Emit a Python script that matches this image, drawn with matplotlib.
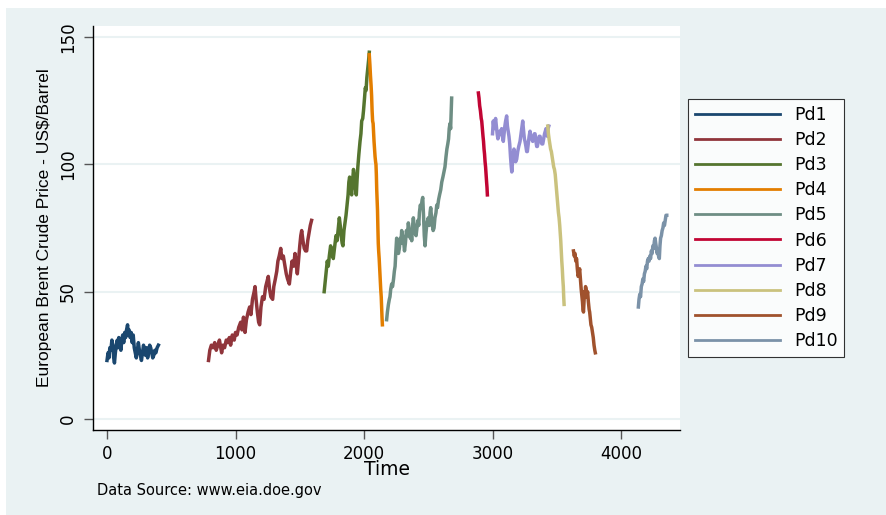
import matplotlib
matplotlib.use("Agg")
import matplotlib.pyplot as plt

# ── data: (time, US$/barrel) ────────────────────────────────────────────────
pd1_t = [0, 8, 15, 22, 30, 38, 45, 52, 58, 65, 72, 80, 86, 92, 100, 108, 115, 122,
         130, 138, 145, 152, 160, 166, 172, 180, 188, 196, 204, 212, 220, 228, 236,
         244, 252, 260, 268, 276, 284, 292, 300, 308, 316, 324, 332, 340, 348, 356,
         364, 372, 380, 390, 400]
pd1_v = [23, 26, 24, 28, 27, 31, 29, 24, 22, 26, 29, 31, 28, 32, 30, 27, 31, 33,
         30, 34, 32, 35, 37, 33, 35, 32, 34, 30, 33, 28, 26, 24, 27,
         30, 27, 25, 23, 26, 29, 27, 25, 28, 24, 26, 29, 28, 26, 24,
         25, 27, 26, 28, 29]

pd2_t = [790, 800, 812, 825, 838, 850, 862, 875, 885, 892, 902, 915, 928, 940, 952,
         962, 975, 990, 1000, 1012, 1025, 1040, 1050, 1062, 1074, 1085, 1098, 1110,
         1120, 1132, 1145, 1152, 1160, 1170, 1180, 1188, 1198, 1210, 1222, 1235,
         1245, 1255, 1265, 1275, 1289, 1298, 1310, 1321, 1330, 1340, 1352, 1360,
         1372, 1385, 1395, 1405, 1419, 1430, 1440, 1452, 1463, 1472, 1481, 1490,
         1500, 1508, 1515, 1525, 1535, 1545, 1554, 1562, 1572, 1582, 1592]
pd2_v = [23, 27, 29, 28, 30, 27, 29, 31, 28, 26, 29, 28, 31, 30, 32,
         29, 33, 31, 34, 33, 36, 38, 35, 40, 34, 39, 42, 44,
         41, 47, 50, 52, 47, 42, 38, 37, 44, 48, 47, 52,
         54, 56, 51, 48, 47, 52, 55, 58, 62, 64, 67, 63,
         64, 60, 57, 55, 53, 58, 62, 60, 65, 61, 57, 62,
         68, 72, 74, 70, 67, 66, 66, 70, 73, 76, 78]

pd3_t = [1690, 1698, 1706, 1714, 1722, 1730, 1740, 1750, 1761, 1770, 1782, 1790,
         1800, 1808, 1815, 1822, 1830, 1836, 1844, 1852, 1860, 1868, 1876, 1882,
         1888, 1895, 1904, 1912, 1918, 1924, 1932, 1940, 1946, 1952, 1960, 1969,
         1976, 1982, 1990, 1996, 2004, 2010, 2016, 2022, 2030, 2036, 2041]
pd3_v = [50, 54, 58, 62, 60, 64, 68, 66, 63, 67, 72, 70,
         75, 79, 76, 72, 69, 68, 74, 77, 80, 84, 88, 93,
         95, 90, 88, 94, 98, 96, 91, 88, 94, 99, 104, 109,
         112, 117, 118, 121, 126, 130, 129, 134, 138, 141, 144]

pd4_t = [2041, 2046, 2050, 2055, 2059, 2063, 2067, 2071, 2075, 2078, 2082, 2086,
         2090, 2093, 2096, 2099, 2102, 2105, 2108, 2111, 2114, 2118, 2122, 2126,
         2130, 2134, 2137, 2140, 2143]
pd4_v = [143, 139, 135, 131, 127, 121, 117, 116, 112, 109, 106, 103,
         101, 100, 96, 90, 86, 82, 75, 69, 66, 63, 59, 55,
         51, 48, 44, 40, 37]

pd5_t = [2176, 2182, 2190, 2197, 2202, 2208, 2215, 2222, 2230, 2236, 2242, 2248,
         2254, 2260, 2268, 2275, 2282, 2288, 2293, 2300, 2308, 2315, 2322, 2330,
         2338, 2345, 2352, 2360, 2366, 2371, 2378, 2384, 2390, 2398, 2405, 2412,
         2420, 2426, 2431, 2438, 2445, 2452, 2457, 2463, 2469, 2475, 2482, 2490,
         2500, 2508, 2514, 2519, 2526, 2532, 2538, 2545, 2552, 2560, 2566, 2572,
         2580, 2588, 2597, 2605, 2614, 2622, 2630, 2638, 2645, 2652, 2658, 2663,
         2669, 2674, 2678, 2682]
pd5_v = [39, 42, 45, 47, 48, 51, 53, 52, 55, 58, 60, 66,
         71, 68, 65, 67, 71, 69, 74, 72, 70, 66, 69, 74,
         72, 77, 74, 71, 73, 70, 76, 79, 76, 73, 72, 75,
         78, 76, 81, 84, 83, 86, 87, 80, 72, 68, 73, 77,
         79, 76, 81, 83, 79, 76, 74, 75, 79, 81, 84, 83,
         86, 88, 90, 93, 95, 97, 99, 103, 106, 108, 110, 114,
         116, 114, 120, 126]

pd6_t = [2890, 2895, 2900, 2906, 2912, 2916, 2921, 2926, 2930, 2934, 2938, 2942,
         2946, 2950, 2954, 2957, 2960]
pd6_v = [128, 126, 123, 121, 118, 117, 114, 111, 109, 106, 104, 101,
         99, 96, 93, 91, 88]

pd7_t = [3000, 3006, 3012, 3018, 3024, 3030, 3036, 3042, 3048, 3055, 3062, 3071,
         3078, 3084, 3090, 3096, 3102, 3110, 3116, 3122, 3128, 3134, 3140, 3146,
         3150, 3156, 3162, 3167, 3174, 3180, 3188, 3196, 3204, 3214, 3222, 3230,
         3235, 3242, 3248, 3253, 3260, 3266, 3271, 3278, 3285, 3292, 3298, 3305,
         3313, 3320, 3326, 3331, 3338, 3344, 3349, 3356, 3363, 3370, 3377, 3384,
         3391, 3398, 3405, 3411, 3416, 3422, 3427, 3432, 3438]
pd7_v = [112, 117, 114, 116, 118, 115, 112, 110, 111, 113, 112, 114,
         111, 109, 112, 115, 117, 119, 115, 113, 111, 108, 103, 99,
         97, 101, 104, 106, 103, 101, 102, 105, 107, 109, 112, 115,
         117, 113, 110, 109, 107, 105, 105, 108, 111, 113, 111, 110,
         109, 111, 112, 112, 109, 107, 107, 109, 111, 111, 109, 108,
         108, 110, 112, 113, 114, 112, 111, 114, 115]

pd8_t = [3430, 3435, 3440, 3446, 3452, 3458, 3464, 3470, 3476, 3482, 3488, 3493,
         3498, 3503, 3508, 3513, 3518, 3523, 3527, 3531, 3535, 3539, 3543, 3547,
         3551, 3554, 3557]
pd8_v = [115, 112, 110, 108, 106, 105, 103, 101, 99, 98, 96, 93,
         90, 87, 84, 81, 79, 76, 73, 70, 66, 62, 59, 55,
         52, 48, 45]

pd9_t = [3630, 3636, 3642, 3648, 3654, 3660, 3666, 3672, 3678, 3684, 3690, 3696,
         3700, 3704, 3708, 3712, 3716, 3720, 3724, 3728, 3734, 3740, 3746, 3752,
         3756, 3760, 3766, 3772, 3778, 3784, 3790, 3796, 3800]
pd9_v = [66, 64, 65, 62, 63, 59, 56, 57, 59, 55, 51, 48,
         46, 43, 42, 46, 50, 48, 52, 51, 48, 50, 46, 43,
         42, 40, 37, 36, 34, 32, 29, 27, 26]

pd10_t = [4135, 4140, 4146, 4152, 4158, 4164, 4170, 4176, 4182, 4188, 4194, 4200,
          4206, 4212, 4218, 4224, 4230, 4236, 4242, 4248, 4254, 4260, 4265, 4270,
          4276, 4281, 4286, 4292, 4298, 4303, 4308, 4314, 4320, 4326, 4332, 4338,
          4344, 4350, 4356]
pd10_v = [44, 47, 49, 48, 52, 53, 55, 54, 57, 58, 60, 59,
          62, 63, 62, 64, 63, 66, 65, 68, 67, 70, 71, 69,
          67, 65, 66, 64, 63, 68, 71, 72, 74, 75, 77, 76,
          78, 80, 80]

labels = ["Pd1", "Pd2", "Pd3", "Pd4", "Pd5", "Pd6", "Pd7", "Pd8", "Pd9", "Pd10"]
times = [pd1_t, pd2_t, pd3_t, pd4_t, pd5_t, pd6_t, pd7_t, pd8_t, pd9_t, pd10_t]
prices = [pd1_v, pd2_v, pd3_v, pd4_v, pd5_v, pd6_v, pd7_v, pd8_v, pd9_v, pd10_v]

# Stata s2color palette
colors = ["#1a476f", "#90353b", "#55752f", "#e37e00", "#6e8e84",
          "#c10534", "#938dd2", "#cac27e", "#a0522d", "#7b92a8"]

BG = "#eaf2f3"

fig = plt.figure(figsize=(8.86, 5.15), dpi=100)
fig.patch.set_facecolor("white")
# bluish-gray graph region
fig.patches.append(plt.Rectangle((6 / 886, 0), 880 / 886, 507 / 515,
                                 transform=fig.transFigure, fc=BG, ec="none",
                                 zorder=-10))

ax = fig.add_axes([93 / 886, 1 - 430 / 515, 587 / 886, 404 / 515])
ax.set_facecolor("white")

for t, v, c, lab in zip(times, prices, colors, labels):
    ax.plot(t, v, color=c, lw=2.5, label=lab, solid_joinstyle="round")

ax.set_xlim(-109, 4459)
ax.set_ylim(-4.3, 154.3)
ax.set_xticks([0, 1000, 2000, 3000, 4000])
ax.set_yticks([0, 50, 100, 150])
ax.yaxis.grid(True, color=BG, lw=1.5)
ax.set_axisbelow(True)

for s in ["top", "right"]:
    ax.spines[s].set_visible(False)
for s in ["left", "bottom"]:
    ax.spines[s].set_color("black")
    ax.spines[s].set_linewidth(1.0)

ax.tick_params(axis="both", colors="#555555", labelcolor="black",
               labelsize=12, length=6.5, width=1.0, direction="out")
ax.tick_params(axis="y", pad=5)
ax.tick_params(axis="x", pad=4)
for lbl in ax.get_yticklabels():
    lbl.set_rotation(90)
    lbl.set_va("center")

ax.set_xlabel("Time", fontsize=13.5, labelpad=-2)
ax.set_ylabel("European Brent Crude Price - US$/Barrel",
              family=["Liberation Sans", "DejaVu Sans"], fontsize=12.5,
              labelpad=5)

fig.text(97 / 886, 1 - 491 / 515, "Data Source: www.eia.doe.gov",
         fontsize=10.5, va="center", ha="left")

leg = ax.legend(loc="upper left", bbox_to_anchor=(688 / 886, 1 - 99 / 515),
                bbox_transform=fig.transFigure, frameon=True, fancybox=False,
                fontsize=12.5, handlelength=4.9, handletextpad=0.8,
                labelspacing=0.41, borderpad=0.4, borderaxespad=0)
leg.get_frame().set_edgecolor("black")
leg.get_frame().set_linewidth(0.8)
for line in leg.get_lines():
    line.set_linewidth(2.0)

fig.savefig("out.png", dpi=100, facecolor="white")
